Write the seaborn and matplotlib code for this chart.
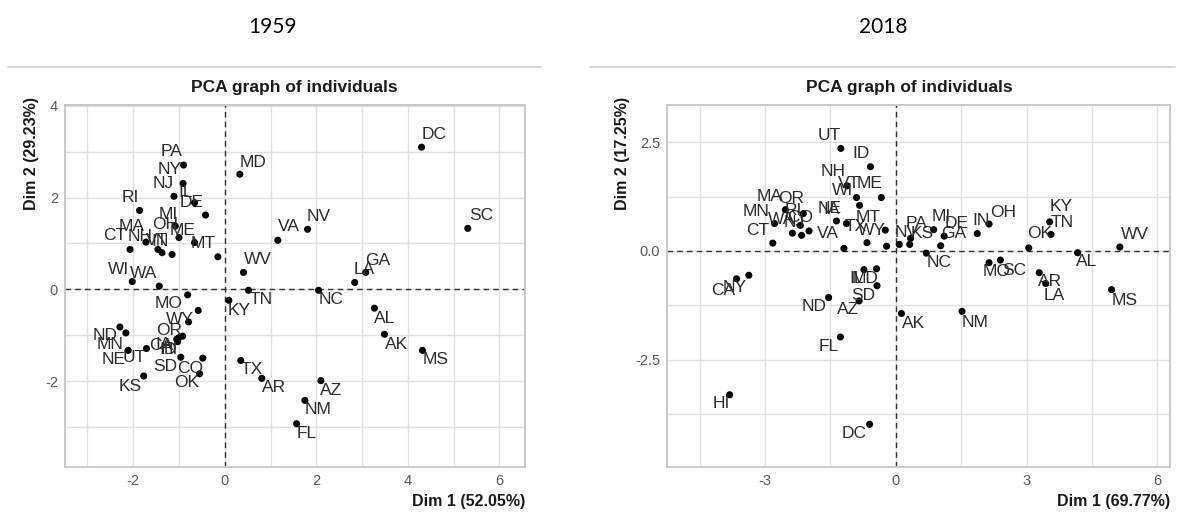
import numpy as np
import pandas as pd
import matplotlib
matplotlib.use("Agg")
import matplotlib.pyplot as plt
import seaborn as sns

# --- data ---
states_1959 = ["DC", "SC", "MD", "VA", "NV", "WV", "GA", "LA", "NC", "TN", "KY", "AL", "AK", "MS",
               "TX", "AR", "AZ", "NM", "FL",
               "PA", "NY", "NJ", "IL", "DE", "RI", "MI", "OH", "MA", "CT", "NH", "VT", "IN", "ME",
               "MT", "WI", "WA",
               "MO", "WY", "OR", "ND", "MN", "IA", "CA", "ID", "HI", "NE", "UT", "SD", "CO", "OK", "KS"]
dim1_1959 = [4.30, 5.31, 0.33, 1.16, 1.81, 0.41, 3.08, 2.84, 2.05, 0.52, 0.09, 3.27, 3.49, 4.32,
             0.35, 0.81, 2.10, 1.75, 1.57,
             -0.90, -0.91, -1.11, -0.66, -0.42, -1.86, -1.08, -1.00, -1.72, -2.07, -1.46, -1.37, -1.15, -0.66,
             -0.15, -2.02, -1.43,
             -0.81, -0.58, -0.79, -2.29, -2.16, -0.92, -1.05, -1.00, -1.03, -2.11, -1.71, -0.96, -0.48, -0.55, -1.77]
dim2_1959 = [3.10, 1.33, 2.51, 1.07, 1.31, 0.37, 0.37, 0.15, -0.02, -0.02, -0.24, -0.41, -0.98, -1.33,
             -1.55, -1.94, -1.99, -2.42, -2.93,
             2.71, 2.31, 2.03, 1.89, 1.62, 1.72, 1.38, 1.13, 1.03, 0.87, 0.87, 0.80, 0.76, 1.02,
             0.71, 0.17, 0.07,
             -0.12, -0.46, -0.71, -0.82, -0.95, -1.02, -1.09, -1.05, -1.14, -1.33, -1.29, -1.48, -1.50, -1.84, -1.89]

states_2018 = ["UT", "ID", "NH", "VT", "ME", "WI", "NE", "IA", "MT", "TX", "WY", "VA",
               "NV", "KS", "PA", "MI", "DE", "GA", "NC", "IN", "OH", "OK", "KY", "TN", "AL", "WV",
               "MO", "SC", "AR", "LA", "MS", "AK", "NM",
               "IL", "MD", "SD", "AZ", "ND", "FL", "HI", "DC", "CA", "NY",
               "MA", "OR", "MN", "RI", "WA", "NJ", "CT", "CO"]
dim1_2018 = [-1.26, -0.58, -1.12, -0.90, -0.33, -0.83, -1.36, -1.13, -0.24, -0.66, -0.21, -1.19,
             0.08, 0.32, 0.34, 0.87, 1.11, 1.03, 0.70, 1.87, 2.14, 3.05, 3.53, 3.56, 4.17, 5.14,
             2.14, 2.40, 3.29, 3.44, 4.95, 0.13, 1.52,
             -0.73, -0.44, -0.43, -0.84, -1.54, -1.27, -3.81, -0.60, -3.65, -3.37,
             -2.53, -2.12, -2.78, -2.19, -2.37, -2.16, -2.82, -1.99]
dim2_2018 = [2.36, 1.94, 1.50, 1.23, 1.23, 1.05, 0.69, 0.63, 0.48, 0.19, 0.11, 0.06,
             0.15, 0.15, 0.29, 0.49, 0.34, 0.12, -0.05, 0.40, 0.62, 0.07, 0.67, 0.38, -0.04, 0.09,
             -0.27, -0.21, -0.50, -0.75, -0.89, -1.44, -1.39,
             -0.43, -0.41, -0.80, -1.15, -1.07, -1.98, -3.31, -3.99, -0.64, -0.56,
             0.95, 0.86, 0.63, 0.59, 0.41, 0.36, 0.18, 0.46]

var_1959 = ("Dim 1 (52.05%)", "Dim 2 (29.23%)")
var_2018 = ("Dim 1 (69.77%)", "Dim 2 (17.25%)")

# label nudges (pixels, +y = down) mimicking the repelled labels
nudge_1959 = {
    "DC": (13, -13), "SC": (13, -13), "MD": (13, -12), "VA": (11, -14), "NV": (11, -13), "WV": (14, -13),
    "GA": (12, -12), "LA": (10, -13), "NC": (13, 9), "TN": (13, 9), "KY": (10, 10), "AL": (10, 10),
    "AK": (12, 10), "MS": (13, 9), "TX": (11, 9), "AR": (12, 9), "AZ": (10, 10), "NM": (13, 9), "FL": (10, 10),
    "PA": (-12, -14), "NY": (-13, -14), "NJ": (-11, -13), "IL": (-9, -10), "DE": (-14, -13), "RI": (-9, -13),
    "MI": (-7, -12), "OH": (-14, -13), "MA": (-14, -16), "CT": (-15, -14), "NH": (-18, -13), "VT": (-5, -12),
    "IN": (-12, -13), "ME": (-12, -12), "MT": (-15, -13), "WI": (-14, -12), "WA": (-16, -13),
    "MO": (-19, 9), "WY": (-18, 9), "OR": (-19, 9), "ND": (-15, 9), "MN": (-16, 12), "IA": (-19, 8),
    "CA": (-15, 6), "ID": (-11, 12), "HI": (-8, 8), "NE": (-15, 9), "UT": (-12, 9), "SD": (-16, 9),
    "CO": (-13, 10), "OK": (-13, 9), "KS": (-14, 10),
}
nudge_2018 = {
    "UT": (-12, -13), "ID": (-9, -13), "NH": (-14, -14), "VT": (-7, -14), "ME": (-12, -14), "WI": (-17, -15),
    "NE": (-7, -12), "IA": (-15, -14), "MT": (-17, -13), "TX": (-11, -16), "WY": (-15, -16), "VA": (-16, -15),
    "NV": (7, -12), "KS": (12, -11), "PA": (6, -15), "MI": (8, -13), "DE": (12, -13), "GA": (13, -12),
    "NC": (13, 9), "IN": (4, -13), "OH": (14, -12), "OK": (11, -14), "KY": (12, -15), "TN": (11, -12),
    "AL": (9, 9), "WV": (15, -13), "MO": (7, 9), "SC": (14, 10), "AR": (11, 9), "LA": (9, 12),
    "MS": (13, 11), "AK": (12, 10), "NM": (13, 11),
    "IL": (-7, 9), "MD": (-12, 10), "SD": (-14, 10), "AZ": (-11, 9), "ND": (-14, 9), "FL": (-12, 10),
    "HI": (-8, 9), "DC": (-15, 9), "CA": (-13, 12), "NY": (-14, 12),
    "MA": (-16, -13), "OR": (-12, -15), "MN": (-18, -12), "RI": (-7, -15), "WA": (-11, -14),
    "NJ": (-7, -13), "CT": (-15, -13), "CO": (-9, -13),
}

W, H = 1181, 514
sns.set_theme(style="whitegrid")
plt.rcParams["font.family"] = ["Liberation Sans", "DejaVu Sans"]
plt.rcParams["axes.unicode_minus"] = False
fig = plt.figure(figsize=(W / 100, H / 100), dpi=100)


def px_axes(x0, y0, x1, y1):
    return fig.add_axes([x0 / W, 1 - y1 / H, (x1 - x0) / W, (y1 - y0) / H])


def pca_panel(ax, states, d1, d2, nudges, labels, xlim, ylim, xmaj, xmin, ymaj, ymin, yfmt):
    df = pd.DataFrame({"state": states, "Dim1": d1, "Dim2": d2})
    sns.scatterplot(data=df, x="Dim1", y="Dim2", ax=ax, color="black", s=26,
                    edgecolor="none", zorder=3)
    for _, r in df.iterrows():
        dx, dy = nudges.get(r.state, (0, -12))
        ax.annotate(r.state, (r.Dim1, r.Dim2), xytext=(dx * 0.72, -dy * 0.72),
                    textcoords="offset points", ha="center", va="center",
                    fontsize=12.5, color="#2b2b2b", zorder=4)
    ax.axhline(0, color="#333333", ls=(0, (4, 3)), lw=1.0, zorder=2)
    ax.axvline(0, color="#333333", ls=(0, (4, 3)), lw=1.0, zorder=2)
    ax.set_xlim(*xlim)
    ax.set_ylim(*ylim)
    ax.set_xticks(xmaj)
    ax.set_xticks(xmin, minor=True)
    ax.set_yticks(ymaj)
    ax.set_yticks(ymin, minor=True)
    ax.set_yticklabels([yfmt.format(v) for v in ymaj])
    ax.grid(True, which="both", color="#e0e0e0", lw=1.0)
    ax.tick_params(which="both", length=0, labelsize=10.5, labelcolor="#595959", pad=5)
    for sp in ax.spines.values():
        sp.set_color("#c6c6c6")
        sp.set_linewidth(1.3)
    ax.set_xlabel(labels[0], loc="right", fontsize=11.5, fontweight="bold", color="#1a1a1a", labelpad=4)
    ax.set_ylabel(labels[1], loc="top", fontsize=11.5, fontweight="bold", color="#1a1a1a", labelpad=4)
    ax.yaxis.label.set_y(1.022)
    ax.set_axisbelow(True)


ax1 = px_axes(65, 105, 525, 467.3)
pca_panel(ax1, states_1959, dim1_1959, dim2_1959, nudge_1959, var_1959,
          (-3.49, 6.56), (-3.88, 4.02), [-2, 0, 2, 4, 6], [-3, -1, 1, 3, 5],
          [-2, 0, 2, 4], [-3, -1, 1, 3], "{:g}")

ax2 = px_axes(667.3, 105, 1170, 467.3)
pca_panel(ax2, states_2018, dim1_2018, dim2_2018, nudge_2018, var_2018,
          (-5.24, 6.29), (-4.98, 3.36), [-3, 0, 3, 6], [-4.5, -1.5, 1.5, 4.5],
          [-2.5, 0, 2.5], [-3.75, -1.25, 1.25], "{:.1f}")

# plot titles
fig.text(294 / W, 1 - 87 / H, "PCA graph of individuals", ha="center", va="center",
         fontsize=12.5, fontweight="bold", color="#1a1a1a")
fig.text(909 / W, 1 - 87 / H, "PCA graph of individuals", ha="center", va="center",
         fontsize=12.5, fontweight="bold", color="#1a1a1a")

# year headings with separator rules
fig.text(273 / W, 1 - 27 / H, "1959", ha="center", va="center", fontsize=15,
         family=["Lato", "DejaVu Sans"], color="black")
fig.text(883 / W, 1 - 27 / H, "2018", ha="center", va="center", fontsize=15,
         family=["Lato", "DejaVu Sans"], color="black")
fig.add_artist(plt.Line2D([8 / W, 541 / W], [1 - 67 / H, 1 - 67 / H], color="#d0d0d0", lw=1.2))
fig.add_artist(plt.Line2D([590 / W, 1175 / W], [1 - 67 / H, 1 - 67 / H], color="#d0d0d0", lw=1.2))

fig.savefig("out.png", dpi=100)
